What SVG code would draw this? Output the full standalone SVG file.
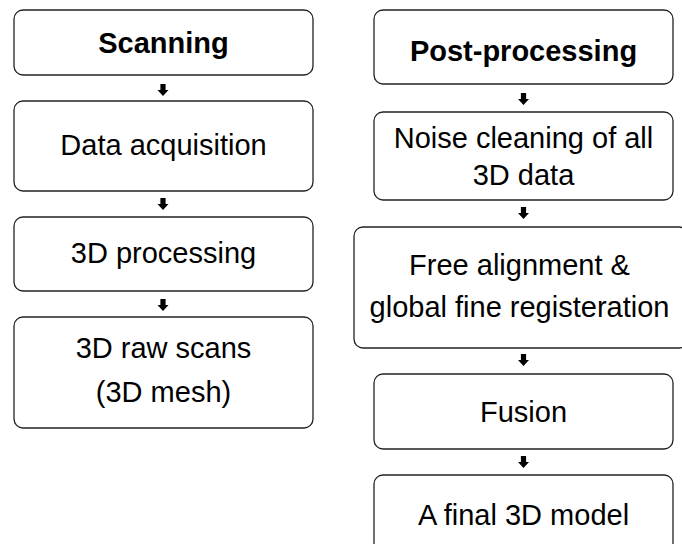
<svg xmlns="http://www.w3.org/2000/svg" width="682" height="544" viewBox="0 0 682 544">
<defs>
<style>
.box{fill:#fff;stroke:#222;stroke-width:1.3}
.t{font-family:"Liberation Sans",Arial,sans-serif;font-size:29px;fill:#000;text-anchor:middle}
.b{font-weight:bold}
.arr{fill:#000}
</style>
<path id="ar" d="M-2.6,0 H2.6 V6 H5.5 L0,12 L-5.5,6 H-2.6 Z"/>
</defs>
<rect width="682" height="544" fill="#fff"/>
<g id="scanning"><rect class="box" x="14" y="10" width="299" height="65" rx="9"/><text class="t b" x="163.5" y="53">Scanning</text></g>
<g id="data-acquisition"><rect class="box" x="14" y="101" width="299" height="90" rx="9"/><text class="t" x="163.5" y="155">Data acquisition</text></g>
<g id="processing-3d"><rect class="box" x="14" y="217" width="299" height="74" rx="9"/><text class="t" x="163.5" y="263">3D processing</text></g>
<g id="raw-scans"><rect class="box" x="14" y="317" width="299" height="111" rx="9"/><text class="t" x="163.5" y="358">3D raw scans</text><text class="t" x="163.5" y="402">(3D mesh)</text></g>
<g id="post-processing"><rect class="box" x="374" y="10" width="299" height="74" rx="9"/><text class="t b" x="523.5" y="61">Post-processing</text></g>
<g id="noise-cleaning"><rect class="box" x="374" y="112" width="299" height="88" rx="9"/><text class="t" x="523.5" y="148">Noise cleaning of all</text><text class="t" x="523.5" y="185">3D data</text></g>
<g id="alignment"><rect class="box" x="354" y="227" width="334" height="121" rx="9"/><text class="t" x="519.5" y="275">Free alignment &amp;</text><text class="t" x="519.5" y="317">global fine registeration</text></g>
<g id="fusion"><rect class="box" x="374" y="374" width="299" height="75" rx="9"/><text class="t" x="523.5" y="422">Fusion</text></g>
<g id="final-model"><rect class="box" x="374" y="475" width="299" height="80" rx="9"/><text class="t" x="523.5" y="525">A final 3D model</text></g>
<g id="connectors" class="arr">
<use href="#ar" x="163" y="84"/>
<use href="#ar" x="163" y="198"/>
<use href="#ar" x="163" y="299"/>
<use href="#ar" x="523.5" y="93"/>
<use href="#ar" x="523.5" y="207"/>
<use href="#ar" x="523.5" y="354"/>
<use href="#ar" x="523.5" y="456"/>
</g>
</svg>
